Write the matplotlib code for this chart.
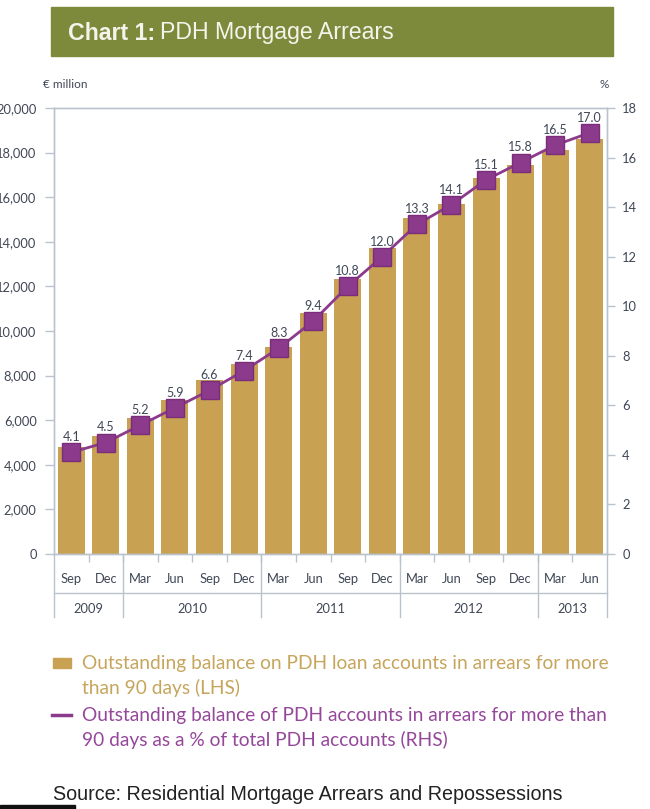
import matplotlib
matplotlib.use("Agg")
from matplotlib import pyplot as plt
from matplotlib.patches import Rectangle
from matplotlib.lines import Line2D
import matplotlib.transforms as mtransforms

# Quarterly data, Sep 2009 - Jun 2013
months = ["Sep", "Dec", "Mar", "Jun", "Sep", "Dec", "Mar", "Jun",
          "Sep", "Dec", "Mar", "Jun", "Sep", "Dec", "Mar", "Jun"]
years = ["2009", "2010", "2011", "2012", "2013"]
year_counts = [2, 4, 4, 4, 2]
balance = [4800, 5300, 6100, 6900, 7800, 8500, 9300, 10800,
           12350, 13700, 15050, 15700, 16850, 17450, 18100, 18600]
pct = [4.1, 4.5, 5.2, 5.9, 6.6, 7.4, 8.3, 9.4,
       10.8, 12.0, 13.3, 14.1, 15.1, 15.8, 16.5, 17.0]
left_ticks = [0, 2000, 4000, 6000, 8000, 10000, 12000, 14000, 16000, 18000, 20000]
right_ticks = [0, 2, 4, 6, 8, 10, 12, 14, 16, 18]

gold = "#c9a152"
purple = "#8c3a8c"
axis_col = "#b9c3cd"
tick_txt = "#3f4756"
font = "Lato"

W, H = 650, 809
fig = plt.figure(figsize=(W / 100, H / 100), dpi=100)

# title banner
fig.patches.append(Rectangle((51 / W, 1 - 56 / H), 562 / W, 49 / H,
                             transform=fig.transFigure, color="#7e8a3b"))
fig.text(68 / W, 1 - 33 / H, "Chart 1:", color="#f4f4ec", fontsize=16.7,
         fontweight="bold", family="Liberation Sans", va="center")
fig.text(160 / W, 1 - 33 / H, "PDH Mortgage Arrears", color="#f4f4ec",
         fontsize=16.7, family="Liberation Sans", va="center")

x0, x1, ytop, ybot = 54, 607, 108, 554
ax = fig.add_axes([x0 / W, 1 - ybot / H, (x1 - x0) / W, (ybot - ytop) / H])
ax2 = ax.twinx()

x = list(range(len(months)))
ax.bar(x, balance, width=0.78, color=gold, zorder=2)
ax.set_xlim(-0.5, len(months) - 0.5)
ax.set_ylim(0, 20000)
ax.set_yticks(left_ticks)
ax.set_yticklabels([f"{v:,}" for v in left_ticks])

ax2.plot(x, pct, color=purple, lw=2, marker="s", markersize=13.5,
         markerfacecolor=purple, markeredgecolor="#7a2e7a", zorder=3)
ax2.set_ylim(0, 18)
ax2.set_yticks(right_ticks)
for xi, v in zip(x, pct):
    ax2.annotate(f"{v:.1f}", (xi, v), xytext=(0, 6.5), textcoords="offset points",
                 ha="center", va="bottom", fontsize=9, color=tick_txt, family=font)

for a in (ax, ax2):
    for s in a.spines.values():
        s.set_color(axis_col)
        s.set_linewidth(1)
ax.tick_params(axis="y", length=6.5, width=1, color=axis_col, pad=6,
               labelsize=9.3, labelcolor=tick_txt)
ax2.tick_params(axis="y", length=6, width=1, color=axis_col, pad=5,
                labelsize=9.3, labelcolor=tick_txt)
for lab in ax.get_yticklabels() + ax2.get_yticklabels():
    lab.set_family(font)

# month labels and boundary ticks
ax.set_xticks(x)
ax.set_xticklabels(months, fontsize=9.3, color=tick_txt, family=font)
ax.tick_params(axis="x", length=0, pad=14)
ax.set_xticks([i + 0.5 for i in x[:-1]], minor=True)
ax.tick_params(axis="x", which="minor", length=6, width=1, color=axis_col)

axh = ybot - ytop
trans = mtransforms.blended_transform_factory(ax.transData, ax.transAxes)
y_sep = -(593 - ybot) / axh
y_end = -(617 - ybot) / axh
ax.add_line(Line2D([0, 1], [y_sep, y_sep], transform=ax.transAxes,
                   color=axis_col, lw=1, clip_on=False))
for xx in (0, 1):
    ax.add_line(Line2D([xx, xx], [0, y_end], transform=ax.transAxes,
                       color=axis_col, lw=1, clip_on=False))
start = 0
for yr, n in zip(years, year_counts):
    if start > 0:
        ax.add_line(Line2D([start - 0.5, start - 0.5], [0, y_end], transform=trans,
                           color=axis_col, lw=1, clip_on=False))
    ax.text(start + (n - 1) / 2, -(609 - ybot) / axh, yr, transform=trans,
            ha="center", va="center", fontsize=9.3, color=tick_txt, family=font)
    start += n

fig.text(43 / W, 1 - 85 / H, "€ million", fontsize=8.5, color=tick_txt,
         family=font, va="center")
fig.text(600 / W, 1 - 85 / H, "%", fontsize=8.5, color=tick_txt,
         family=font, va="center")

# legend
fig.patches.append(Rectangle((53 / W, 1 - 668 / H), 18 / W, 10 / H,
                             transform=fig.transFigure, color=gold))
fig.text(82 / W, 1 - 663 / H, "Outstanding balance on PDH loan accounts in arrears for more",
         color="#c6a55c", fontsize=13.8, family=font, va="center")
fig.text(82 / W, 1 - 688 / H, "than 90 days (LHS)",
         color="#c6a55c", fontsize=13.8, family=font, va="center")
fig.lines.append(Line2D([52 / W, 71 / W], [1 - 715 / H, 1 - 715 / H],
                        transform=fig.transFigure, color=purple, lw=2.5))
fig.text(82 / W, 1 - 715 / H, "Outstanding balance of PDH accounts in arrears for more than",
         color="#95479a", fontsize=13.8, family=font, va="center")
fig.text(82 / W, 1 - 740 / H, "90 days as a % of total PDH accounts (RHS)",
         color="#95479a", fontsize=13.8, family=font, va="center")

fig.text(53 / W, 1 - 794 / H, "Source: Residential Mortgage Arrears and Repossessions",
         fontsize=14.2, family="Liberation Sans", color="#222222", va="center")
fig.patches.append(Rectangle((0, 0), 75 / W, 4 / H, transform=fig.transFigure,
                             color="#111111"))

fig.savefig("out.png", dpi=100)
